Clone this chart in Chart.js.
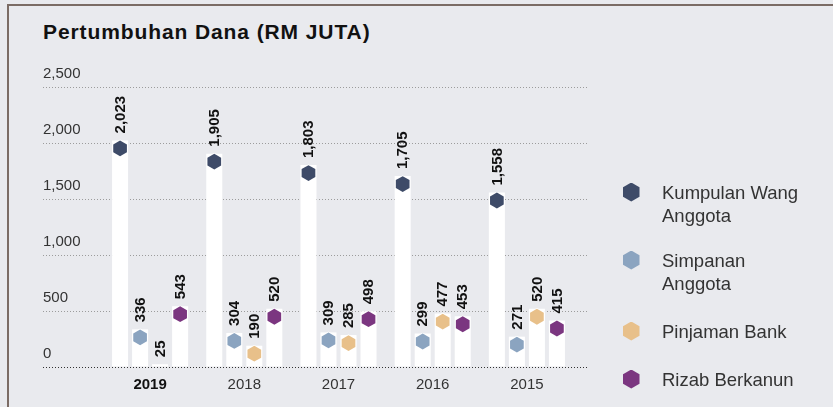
<!DOCTYPE html>
<html>
<head>
<meta charset="utf-8">
<script src="https://cdn.jsdelivr.net/npm/chart.js@4.4.1/dist/chart.umd.min.js"></script>
<style>
  html, body { margin: 0; padding: 0; background: #e9eaee; }
  #wrap { position: relative; width: 833px; height: 407px; overflow: hidden; background: #e9eaee;
          font-family: "Liberation Sans", Arial, Helvetica, sans-serif; }
  #frame { position: absolute; left: 7px; top: 4px; width: 840px; height: 420px;
           border-top: 2px solid #7b6c65; border-left: 2px solid #7b6c65; }
  #title { position: absolute; left: 43px; top: 20.5px; font-size: 21px; line-height: 21px;
           font-weight: bold; letter-spacing: 0.9px; color: #111; white-space: nowrap; }
  #chart { position: absolute; left: 0; top: 0; }
  .lg-item { position: absolute; left: 623px; width: 210px; }
  .lg-hex { position: absolute; left: 0; width: 16.5px; height: 19px;
            clip-path: polygon(50% 0, 100% 25%, 100% 75%, 50% 100%, 0 75%, 0 25%); }
  .lg-text { position: absolute; left: 39px; width: 150px; font-size: 18.5px; line-height: 23px; color: #333; }
</style>
</head>
<body>
<div id="wrap">
  <div id="frame"></div>
  <div id="title">Pertumbuhan Dana (RM JUTA)</div>
  <canvas id="chart" width="833" height="407"></canvas>
  <div id="legend"></div>
</div>
<script>
// ---- data ----
const years = ['2019', '2018', '2017', '2016', '2015'];
const seriesNames = ['Kumpulan Wang Anggota', 'Simpanan Anggota', 'Pinjaman Bank', 'Rizab Berkanun'];
const kumpulanWang = [2023, 1905, 1803, 1705, 1558];
const simpanan = [336, 304, 309, 299, 271];
const pinjaman = [25, 190, 285, 477, 520];
const rizab = [543, 520, 498, 453, 415];
const yTicks = [0, 500, 1000, 1500, 2000, 2500];

// ---- styles ----
const markerColors = ['#3e4b68', '#8ba4c0', '#e8c08a', '#7b3680'];
const FONT = '"Liberation Sans", Arial, Helvetica, sans-serif';

function hexPath(ctx, cx, cy, r) {
  ctx.beginPath();
  for (let k = 0; k < 6; k++) {
    const a = -Math.PI / 2 + k * Math.PI / 3;
    const px = cx + r * Math.cos(a), py = cy + r * Math.sin(a);
    if (k === 0) ctx.moveTo(px, py); else ctx.lineTo(px, py);
  }
  ctx.closePath();
}

const markerPlugin = {
  id: 'hexMarkers',
  afterDatasetsDraw(chart) {
    const ctx = chart.ctx;
    chart.data.datasets.forEach((ds, di) => {
      const meta = chart.getDatasetMeta(di);
      meta.data.forEach((bar, i) => {
        const v = ds.data[i];
        const x = bar.x, y = bar.y;
        if (v >= 50) {
          ctx.save();
          hexPath(ctx, x, y + 8, 8.8);
          ctx.fillStyle = '#ffffff';
          ctx.fill();
          hexPath(ctx, x, y + 8, 7.9);
          ctx.fillStyle = ds.markerColor;
          ctx.fill();
          ctx.restore();
        }
        ctx.save();
        ctx.translate(x + 0.5, y - 7);
        ctx.rotate(-Math.PI / 2);
        ctx.font = 'bold 15px ' + FONT;
        ctx.fillStyle = '#111';
        ctx.textAlign = 'left';
        ctx.textBaseline = 'middle';
        ctx.fillText(v.toLocaleString('en-US'), 0, 0);
        ctx.restore();
      });
    });
  }
};

const seriesData = [kumpulanWang, simpanan, pinjaman, rizab];
const gridColor = (c) => (c.tick && c.tick.value === 0) ? '#333333' : '#9c9c9c';

const chart = new Chart(document.getElementById('chart'), {
  type: 'bar',
  data: {
    labels: years,
    datasets: seriesData.map((d, i) => ({
      label: seriesNames[i],
      data: d,
      backgroundColor: '#ffffff',
      borderWidth: 0,
      markerColor: markerColors[i],
      categoryPercentage: 0.85,
      barPercentage: 0.8
    }))
  },
  options: {
    responsive: false,
    animation: false,
    devicePixelRatio: 1,
    layout: { padding: { left: 43, right: 245, top: 87, bottom: 4 } },
    plugins: { legend: { display: false }, tooltip: { enabled: false }, title: { display: false } },
    scales: {
      x: {
        grid: { display: false, drawTicks: false },
        border: { display: false },
        ticks: {
          padding: 9,
          color: (c) => c.index === 0 ? '#111' : '#333',
          font: (c) => ({ family: FONT, size: 15, weight: c.index === 0 ? 'bold' : 'normal' })
        }
      },
      y: {
        min: 0, max: 2500,
        afterBuildTicks: (s) => { s.ticks = yTicks.map(v => ({ value: v })); },
        afterFit: (s) => { s.width = 60; },
        grid: { color: gridColor, tickColor: gridColor, lineWidth: 1, drawTicks: true, tickLength: 60, tickBorderDash: [1, 2] },
        border: { display: false, dash: [1, 2] },
        ticks: {
          crossAlign: 'far', padding: 0, labelOffset: -13, color: '#333',
          font: { family: FONT, size: 15 },
          callback: (v) => Number(v).toLocaleString('en-US')
        }
      },
      y2: {
        position: 'right',
        min: 0, max: 2500,
        afterBuildTicks: (s) => { s.ticks = yTicks.map(v => ({ value: v })); },
        afterFit: (s) => { s.width = 14; },
        grid: { color: gridColor, tickColor: gridColor, drawOnChartArea: false, drawTicks: true, tickLength: 14, tickBorderDash: [1, 2] },
        border: { display: false },
        ticks: { display: false }
      }
    }
  },
  plugins: [markerPlugin]
});

// ---- HTML legend (wrapped labels) ----
const legendTops = [180.5, 248.5, 319.5, 367.5];
const legend = document.getElementById('legend');
seriesNames.forEach((name, i) => {
  const item = document.createElement('div');
  item.className = 'lg-item';
  item.style.top = legendTops[i] + 'px';
  const hex = document.createElement('div');
  hex.className = 'lg-hex';
  hex.style.background = markerColors[i];
  hex.style.top = (11.5 - 9.5) + 'px';
  const txt = document.createElement('div');
  txt.className = 'lg-text';
  txt.textContent = name;
  item.appendChild(hex);
  item.appendChild(txt);
  legend.appendChild(item);
});
</script>
</body>
</html>
